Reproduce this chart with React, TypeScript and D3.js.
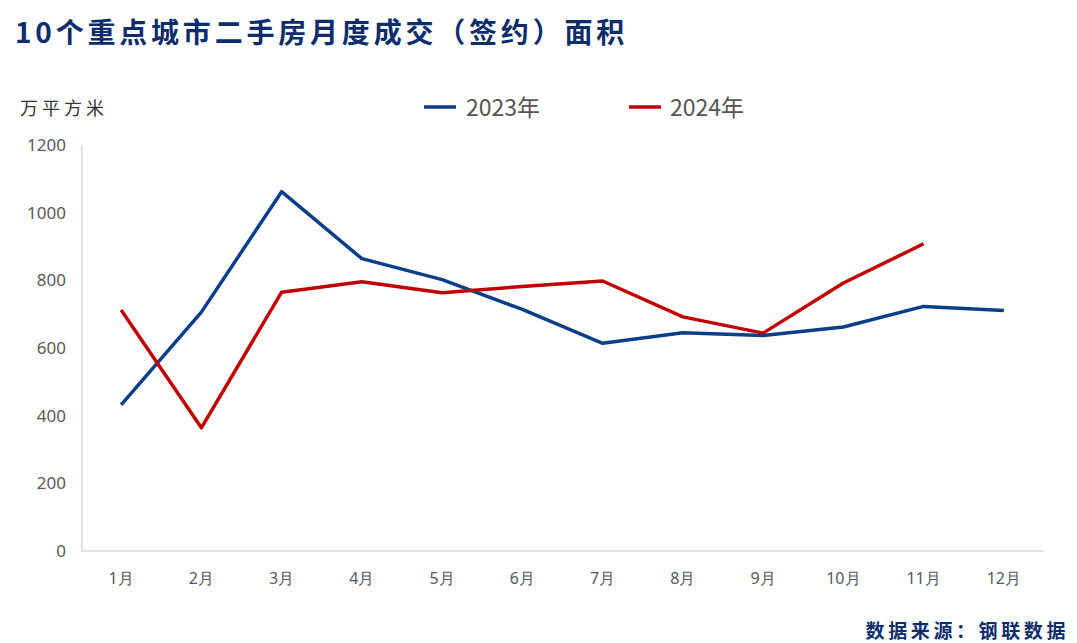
import React from "react";
import * as d3 from "d3";

const months = ["1月", "2月", "3月", "4月", "5月", "6月", "7月", "8月", "9月", "10月", "11月", "12月"];
const series2023 = [432, 706, 1062, 864, 802, 714, 614, 645, 637, 662, 723, 711];
const series2024 = [712, 364, 765, 796, 763, 782, 798, 692, 644, 792, 908, null];
const yTicks = [0, 200, 400, 600, 800, 1000, 1200];

const W = 1077;
const H = 643;
const left = 81;
const right = 1044;
const top = 145;
const bottom = 551;

const BLUE = "#0a3d8a";
const RED = "#c00000";

export default function App() {
  const x = d3.scaleBand<string>().domain(months).range([left, right]).padding(0);
  const y = d3.scaleLinear().domain([0, 1200]).range([bottom, top]);
  const cx = (m: string) => (x(m) ?? 0) + x.bandwidth() / 2;

  const line = d3
    .line<number | null>()
    .defined((d) => d != null)
    .x((_, i) => cx(months[i]))
    .y((d) => y(d as number));

  const numFont = "'Noto Sans', sans-serif";
  const cjk = "'Noto Sans CJK SC', sans-serif";

  return (
    <svg width={W} height={H} style={{ position: "absolute", left: 0, top: 0, background: "#fff" }}>
      <text x={15} y={43} fontFamily={cjk} fontWeight="bold" fontSize={28} letterSpacing={3.8} fill="#0c2d6b">
        10个重点城市二手房月度成交（签约）面积
      </text>
      <text x={20} y={115} fontFamily={cjk} fontSize={18} fill="#333" letterSpacing={4}>
        万平方米
      </text>
      {/* legend */}
      <line x1={424} x2={456} y1={107} y2={107} stroke={BLUE} strokeWidth={3.5} />
      <text x={466} y={116} fontFamily={cjk} fontSize={23} fill="#555">2023年</text>
      <line x1={629} x2={661} y1={107} y2={107} stroke={RED} strokeWidth={3.5} />
      <text x={670} y={116} fontFamily={cjk} fontSize={23} fill="#555">2024年</text>

      {/* axes */}
      <line x1={left + 1} x2={left + 1} y1={top} y2={bottom} stroke="#d9d9d9" strokeWidth={1.5} />
      <line x1={left} x2={right} y1={bottom} y2={bottom} stroke="#d9d9d9" strokeWidth={1.5} />
      {yTicks.map((t) => (
        <text key={t} x={66} y={y(t) + 6} textAnchor="end" fontFamily={numFont} fontSize={17} fill="#595959">
          {t}
        </text>
      ))}
      {months.map((m) => (
        <text key={m} x={cx(m)} y={584} textAnchor="middle" fontFamily={numFont} fontSize={16} fill="#595959">
          {m}
        </text>
      ))}

      <path d={line(series2023) ?? ""} fill="none" stroke={BLUE} strokeWidth={3.5} strokeLinejoin="round" />
      <path d={line(series2024) ?? ""} fill="none" stroke={RED} strokeWidth={3.5} strokeLinejoin="round" />

      <text x={1069} y={638} textAnchor="end" fontFamily={cjk} fontWeight="bold" fontSize={19} letterSpacing={3.6} fill="#0c2d6b">
        数据来源：钢联数据
      </text>
    </svg>
  );
}
